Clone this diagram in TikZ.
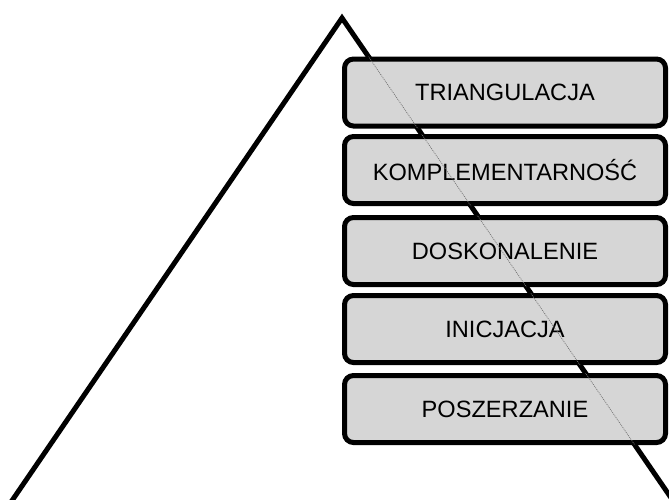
\documentclass[tikz,border=0pt]{standalone}
\usepackage{fontspec}
\setmainfont{Liberation Sans}
\begin{document}
\begin{tikzpicture}[x=1pt,y=-1pt,
  level/.style={draw=black, line width=5pt, rounded corners=9pt, fill=black!16,
    minimum width=321pt, minimum height=67pt, inner sep=0pt,
    font=\fontsize{23.6}{26}\selectfont},
  side/.style={draw=black, line width=5pt, line cap=butt},
  hidden/.style={draw=black!55, line width=0.7pt, dash pattern=on 1pt off 1pt}]
\useasboundingbox (0,0) rectangle (669,499);
\clip (0,0) rectangle (669,499);

% pyramid outline
\coordinate (apex) at (342,18);
\coordinate (lfoot) at (9,505);
\coordinate (rfoot) at (676,505);
\draw[side, line join=miter] (lfoot) -- (apex) -- (rfoot);

% levels, top to bottom
\node[level] (l1) at (505,92.5) {TRIANGULACJA};
\node[level] (l2) at (505,170) {KOMPLEMENTARNOŚĆ};
\node[level] (l3) at (505,251) {DOSKONALENIE};
\node[level] (l4) at (505,329) {INICJACJA};
\node[level] (l5) at (505,409) {POSZERZANIE};

% the right side seen through the boxes
\begin{scope}
  \clip (l1.south west) rectangle (l1.north east)
        (l2.south west) rectangle (l2.north east)
        (l3.south west) rectangle (l3.north east)
        (l4.south west) rectangle (l4.north east)
        (l5.south west) rectangle (l5.north east);
  \draw[hidden] (apex) -- (rfoot);
\end{scope}
\end{tikzpicture}
\end{document}
